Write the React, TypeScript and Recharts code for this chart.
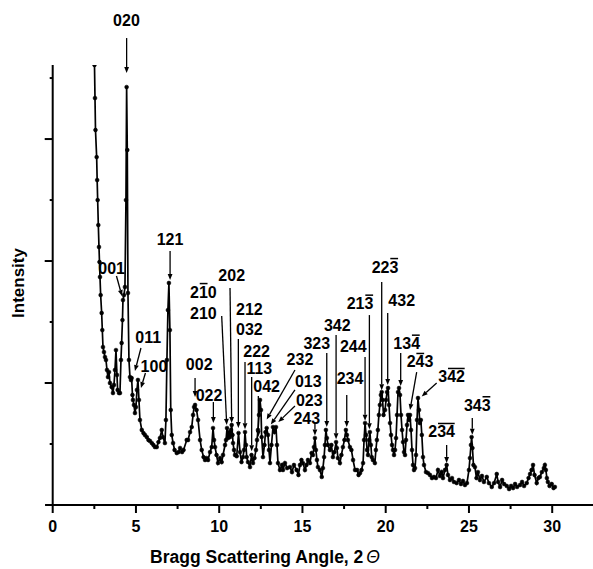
import { LineChart, Line, XAxis, YAxis, ReferenceLine, ReferenceDot } from "recharts";

// 2-theta (degrees) and intensity (arbitrary units, 1000 per major tick)
const angle = [
  2.51, 2.54, 2.57, 2.64, 2.67, 2.7, 2.74, 2.78, 2.81, 2.84, 2.88, 2.94, 2.98, 3.02, 3.08, 3.14, 3.2, 3.26, 3.32, 3.38,
  3.44, 3.54, 3.62, 3.68, 3.74, 3.8, 3.86, 3.9, 3.98, 4.04, 4.1, 4.14, 4.19, 4.22, 4.28, 4.34, 4.4, 4.44, 4.48, 4.52,
  4.58, 4.64, 4.7, 4.74, 4.79, 4.82, 4.88, 4.94, 5.0, 5.06, 5.12, 5.18, 5.24, 5.35, 5.45, 5.54, 5.65, 5.75, 5.84, 5.95,
  6.05, 6.14, 6.25, 6.35, 6.44, 6.55, 6.62, 6.74, 6.8, 6.86, 6.92, 6.98, 7.04, 7.09, 7.15, 7.23, 7.32, 7.45, 7.56, 7.65,
  7.77, 7.86, 8.05, 8.13, 8.25, 8.35, 8.43, 8.49, 8.55, 8.64, 8.73, 8.85, 8.95, 9.06, 9.15, 9.24, 9.33, 9.45, 9.55, 9.63,
  9.69, 9.75, 9.84, 9.93, 10.05, 10.15, 10.23, 10.35, 10.41, 10.47, 10.53, 10.59, 10.65, 10.71, 10.75, 10.8, 10.83, 10.89, 10.95, 11.05,
  11.16, 11.25, 11.34, 11.43, 11.49, 11.55, 11.61, 11.65, 11.73, 11.85, 11.94, 12.03, 12.12, 12.21, 12.27, 12.33, 12.39, 12.45, 12.51, 12.55,
  12.63, 12.72, 12.78, 12.85, 12.93, 12.99, 13.05, 13.14, 13.23, 13.32, 13.41, 13.47, 13.53, 13.65, 13.77, 13.83, 13.95, 14.08, 14.25, 14.37,
  14.49, 14.65, 14.76, 14.85, 14.94, 15.03, 15.15, 15.24, 15.33, 15.45, 15.55, 15.63, 15.69, 15.75, 15.81, 15.87, 15.93, 16.05, 16.16, 16.23,
  16.3, 16.35, 16.41, 16.47, 16.53, 16.65, 16.74, 16.83, 16.92, 17.02, 17.07, 17.13, 17.25, 17.34, 17.43, 17.52, 17.61, 17.67, 17.73, 17.85,
  17.94, 18.04, 18.16, 18.28, 18.37, 18.46, 18.55, 18.64, 18.7, 18.76, 18.82, 18.88, 18.94, 19.0, 19.05, 19.11, 19.16, 19.23, 19.35, 19.41,
  19.47, 19.53, 19.59, 19.65, 19.71, 19.76, 19.81, 19.87, 19.96, 20.02, 20.08, 20.14, 20.2, 20.26, 20.32, 20.38, 20.44, 20.5, 20.56, 20.62,
  20.68, 20.74, 20.8, 20.86, 20.92, 20.98, 21.04, 21.1, 21.16, 21.22, 21.28, 21.34, 21.4, 21.46, 21.52, 21.58, 21.64, 21.7, 21.76, 21.82,
  21.88, 21.94, 22.0, 22.05, 22.11, 22.17, 22.24, 22.3, 22.42, 22.54, 22.66, 22.78, 22.9, 23.02, 23.14, 23.26, 23.36, 23.44, 23.56, 23.66,
  23.74, 23.86, 23.98, 24.1, 24.26, 24.4, 24.52, 24.64, 24.76, 24.88, 25.0, 25.06, 25.12, 25.16, 25.21, 25.27, 25.36, 25.45, 25.54, 25.66,
  25.78, 25.9, 26.07, 26.2, 26.37, 26.51, 26.67, 26.75, 26.87, 26.99, 27.11, 27.27, 27.41, 27.53, 27.65, 27.77, 27.89, 28.07, 28.19, 28.31,
  28.47, 28.58, 28.67, 28.76, 28.85, 28.94, 29.07, 29.17, 29.26, 29.38, 29.5, 29.56, 29.62, 29.68, 29.74, 29.84, 29.97, 30.08, 30.16,
];

const intensity = [
  3607, 3336, 3074, 2852, 2664, 2500, 2295, 2115, 1992, 1869, 1721, 1574, 1434, 1295, 1254, 1213, 1189, 1107, 1049, 1090,
  1000, 967, 918, 984, 1107, 1270, 1066, 943, 918, 918, 1189, 1328, 1516, 1680, 1721, 1787, 2500, 3426, 2910, 1738,
  1189, 1049, 1025, 1041, 902, 861, 820, 754, 803, 943, 1025, 861, 697, 615, 590, 574, 557, 533, 525, 508,
  492, 475, 475, 516, 549, 615, 557, 508, 697, 1189, 1598, 1820, 1434, 779, 574, 508, 451, 426, 434, 467,
  434, 451, 533, 533, 598, 639, 738, 803, 820, 779, 697, 533, 451, 393, 369, 385, 369, 434, 475, 631,
  533, 475, 410, 344, 385, 352, 410, 492, 533, 631, 549, 598, 557, 615, 656, 574, 508, 451, 410, 400,
  590, 434, 352, 393, 451, 598, 492, 393, 352, 311, 410, 344, 385, 451, 533, 615, 738, 861, 779, 557,
  393, 492, 598, 631, 574, 451, 344, 492, 639, 598, 639, 492, 344, 287, 328, 287, 344, 303, 311, 270,
  328, 287, 246, 328, 369, 344, 287, 328, 369, 344, 426, 410, 475, 549, 451, 369, 311, 287, 230, 303,
  393, 492, 615, 549, 492, 451, 492, 393, 434, 516, 467, 385, 344, 410, 475, 533, 615, 574, 533, 475,
  451, 369, 287, 287, 246, 262, 287, 344, 533, 672, 574, 451, 410, 533, 598, 492, 393, 369, 344, 451,
  533, 615, 738, 820, 902, 926, 861, 738, 779, 861, 926, 959, 820, 672, 574, 492, 451, 410, 451, 549,
  738, 926, 959, 902, 738, 615, 516, 434, 410, 533, 656, 738, 697, 738, 615, 451, 328, 287, 303, 410,
  697, 877, 779, 672, 697, 574, 393, 328, 270, 262, 246, 221, 230, 221, 287, 238, 270, 221, 287, 328,
  246, 205, 221, 189, 180, 205, 172, 197, 164, 180, 287, 385, 492, 557, 467, 328, 311, 221, 270, 205,
  238, 189, 230, 180, 148, 180, 254, 189, 148, 205, 172, 156, 131, 156, 139, 172, 148, 164, 189, 156,
  180, 221, 254, 287, 328, 246, 180, 221, 230, 270, 303, 328, 287, 221, 189, 156, 172, 139, 148,
];

const xTicks = [0, 2.5, 5, 7.5, 10, 12.5, 15, 17.5, 20, 22.5, 25, 27.5, 30];
const yTicks = [500, 1000, 1500, 2000, 2500, 3000, 3500];

// Miller index labels: text, digits carrying an overbar, centre in data units
const peakLabels = [
  { text: "020", bars: [], x: 4.43, y: 3975 },
  { text: "001", bars: [], x: 3.54, y: 1943 },
  { text: "121", bars: [], x: 7.05, y: 2180 },
  { text: "011", bars: [], x: 5.74, y: 1375 },
  { text: "100", bars: [], x: 6.08, y: 1139 },
  { text: "002", bars: [], x: 8.8, y: 1153 },
  { text: "022", bars: [], x: 9.39, y: 902 },
  { text: "210", bars: [1], x: 9.05, y: 1748 },
  { text: "210", bars: [], x: 9.05, y: 1576 },
  { text: "202", bars: [], x: 10.75, y: 1885 },
  { text: "212", bars: [], x: 11.81, y: 1604 },
  { text: "032", bars: [], x: 11.81, y: 1440 },
  { text: "222", bars: [], x: 12.25, y: 1257 },
  { text: "113", bars: [], x: 12.41, y: 1121 },
  { text: "042", bars: [], x: 12.85, y: 970 },
  { text: "232", bars: [], x: 14.85, y: 1194 },
  { text: "013", bars: [], x: 15.35, y: 1016 },
  { text: "023", bars: [], x: 15.41, y: 861 },
  { text: "243", bars: [], x: 15.26, y: 713 },
  { text: "323", bars: [], x: 15.86, y: 1325 },
  { text: "342", bars: [], x: 17.09, y: 1470 },
  { text: "244", bars: [], x: 18.05, y: 1298 },
  { text: "234", bars: [], x: 17.86, y: 1039 },
  { text: "213", bars: [2], x: 18.46, y: 1653 },
  { text: "223", bars: [2], x: 19.96, y: 1953 },
  { text: "432", bars: [], x: 20.96, y: 1680 },
  { text: "134", bars: [2], x: 21.26, y: 1325 },
  { text: "243", bars: [1], x: 22.06, y: 1175 },
  { text: "342", bars: [1, 2], x: 23.96, y: 1052 },
  { text: "234", bars: [1, 2], x: 23.36, y: 601 },
  { text: "343", bars: [2], x: 25.5, y: 820 },
];

// arrows from label to peak, in data units
const peakArrows = [
  { x1: 4.44, y1: 3828, x2: 4.44, y2: 3541 },
  { x1: 3.83, y1: 1877, x2: 4.16, y2: 1713 },
  { x1: 7.05, y1: 2082, x2: 7.05, y2: 1844 },
  { x1: 5.3, y1: 1287, x2: 4.94, y2: 1098 },
  { x1: 5.57, y1: 1082, x2: 5.3, y2: 959 },
  { x1: 8.55, y1: 1041, x2: 8.55, y2: 885 },
  { x1: 9.65, y1: 844, x2: 9.65, y2: 672 },
  { x1: 10.15, y1: 1549, x2: 10.45, y2: 656 },
  { x1: 10.65, y1: 1779, x2: 10.75, y2: 672 },
  { x1: 11.15, y1: 1361, x2: 11.15, y2: 631 },
  { x1: 11.55, y1: 1172, x2: 11.55, y2: 620 },
  { x1: 11.95, y1: 1049, x2: 11.95, y2: 440 },
  { x1: 12.35, y1: 894, x2: 12.35, y2: 560 },
  { x1: 14.55, y1: 1107, x2: 12.85, y2: 700 },
  { x1: 14.55, y1: 943, x2: 13.1, y2: 660 },
  { x1: 14.55, y1: 811, x2: 13.55, y2: 680 },
  { x1: 15.75, y1: 664, x2: 15.75, y2: 570 },
  { x1: 16.46, y1: 1246, x2: 16.46, y2: 640 },
  { x1: 17.02, y1: 1394, x2: 17.02, y2: 540 },
  { x1: 18.76, y1: 1213, x2: 18.76, y2: 690 },
  { x1: 17.66, y1: 902, x2: 17.66, y2: 640 },
  { x1: 19.02, y1: 1557, x2: 19.02, y2: 620 },
  { x1: 19.76, y1: 1828, x2: 19.76, y2: 940 },
  { x1: 20.12, y1: 1574, x2: 20.12, y2: 984 },
  { x1: 20.9, y1: 1246, x2: 20.9, y2: 975 },
  { x1: 21.86, y1: 1090, x2: 21.46, y2: 779 },
  { x1: 23.06, y1: 1000, x2: 22.16, y2: 890 },
  { x1: 23.66, y1: 492, x2: 23.66, y2: 345 },
  { x1: 25.2, y1: 713, x2: 25.2, y2: 575 },
];

const data = angle.map((a, i) => ({ a, v: intensity[i] }));

const FONT = '"Liberation Sans", Arial, sans-serif';
const FS = 16;
const DIGIT = FS * 0.556;

const XTick = ({ x, y, payload }: any) => {
  const major = payload.value % 5 === 0;
  return (
    <g>
      <line x1={x} x2={x} y1={y} y2={y + (major ? 8 : 4)} stroke="#000" strokeWidth={2} />
      {major && (
        <text x={x} y={y + 27} textAnchor="middle" fontFamily={FONT} fontWeight={700} fontSize={16} fill="#000">
          {payload.value}
        </text>
      )}
    </g>
  );
};

const YTick = ({ x, y, payload }: any) => {
  const major = payload.value % 1000 === 0;
  return <line x1={x - (major ? 8 : 3)} x2={x} y1={y} y2={y} stroke="#000" strokeWidth={2} />;
};

const arrowShape = (p: any) => {
  const { x1, y1, x2, y2 } = p;
  const dx = x2 - x1;
  const dy = y2 - y1;
  const len = Math.hypot(dx, dy) || 1;
  const ux = dx / len;
  const uy = dy / len;
  const hl = 6;
  const hw = 2.4;
  const bx = x2 - ux * hl;
  const by = y2 - uy * hl;
  return (
    <g>
      <line x1={x1} y1={y1} x2={bx} y2={by} stroke="#000" strokeWidth={1.3} />
      <polygon
        points={`${x2},${y2} ${bx - uy * hw},${by + ux * hw} ${bx + uy * hw},${by - ux * hw}`}
        fill="#000"
      />
    </g>
  );
};

const labelShape = (lab: { text: string; bars: number[] }) => (p: any) => {
  const { cx, cy } = p;
  const left = cx - (lab.text.length * DIGIT) / 2;
  const groups: number[][] = [];
  lab.bars.forEach((b) => {
    const g = groups[groups.length - 1];
    if (g && g[1] === b - 1) g[1] = b;
    else groups.push([b, b]);
  });
  return (
    <g>
      <text x={cx} y={cy + 5.8} textAnchor="middle" fontFamily={FONT} fontWeight={700} fontSize={FS} fill="#000">
        {lab.text}
      </text>
      {groups.map(([s, e], i) => (
        <line
          key={i}
          x1={left + s * DIGIT + 0.8}
          x2={left + (e + 1) * DIGIT - 0.3}
          y1={cy - 8.2}
          y2={cy - 8.2}
          stroke="#000"
          strokeWidth={1.5}
        />
      ))}
    </g>
  );
};

export default function App() {
  return (
    <div style={{ position: "absolute", left: 0, top: 0, width: 593, height: 569, background: "#fff" }}>
      <LineChart width={593} height={569} data={data} margin={{ top: 65, right: 0, bottom: 34, left: 12.7 }}>
        <XAxis
          dataKey="a"
          type="number"
          domain={[0, 32.45]}
          allowDataOverflow
          ticks={xTicks}
          interval={0}
          tickSize={0}
          tickMargin={0}
          tickLine={false}
          axisLine={{ stroke: "#000", strokeWidth: 2 }}
          tick={(props: any) => <XTick {...props} />}
          height={30}
        />
        <YAxis
          type="number"
          domain={[0, 3607]}
          allowDataOverflow
          ticks={yTicks}
          interval={0}
          tickSize={0}
          tickMargin={0}
          tickLine={false}
          axisLine={{ stroke: "#000", strokeWidth: 2 }}
          tick={(props: any) => <YTick {...props} />}
          width={40}
        />
        <ReferenceLine
          segment={[{ x: -0.46, y: 0 }, { x: 0, y: 0 }]}
          ifOverflow="visible"
          stroke="#000"
          strokeWidth={2}
        />
        <Line
          dataKey="v"
          type="linear"
          stroke="#000"
          strokeWidth={1.7}
          dot={{ r: 1.9, fill: "#000", stroke: "#000", strokeWidth: 0.6 }}
          isAnimationActive={false}
        />
        {peakArrows.map((a, i) => (
          <ReferenceLine
            key={"a" + i}
            segment={[{ x: a.x1, y: a.y1 }, { x: a.x2, y: a.y2 }]}
            ifOverflow="visible"
            shape={arrowShape}
          />
        ))}
        {peakLabels.map((l, i) => (
          <ReferenceDot key={"l" + i} x={l.x} y={l.y} r={1} ifOverflow="visible" shape={labelShape(l)} />
        ))}
      </LineChart>
      <div
        style={{
          position: "absolute",
          left: 0,
          top: 547,
          width: 530,
          height: 20,
          lineHeight: "20px",
          textAlign: "center",
          fontFamily: FONT,
          fontWeight: 700,
          fontSize: 17.5,
          color: "#000",
        }}
      >
        Bragg Scattering Angle, 2<span style={{ fontStyle: "italic", fontWeight: 400, marginLeft: 3 }}>Θ</span>
      </div>
      <div
        style={{
          position: "absolute",
          left: -41,
          top: 273,
          width: 120,
          height: 20,
          lineHeight: "20px",
          textAlign: "center",
          transform: "rotate(-90deg)",
          fontFamily: FONT,
          fontWeight: 700,
          fontSize: 17,
          color: "#000",
        }}
      >
        Intensity
      </div>
    </div>
  );
}
